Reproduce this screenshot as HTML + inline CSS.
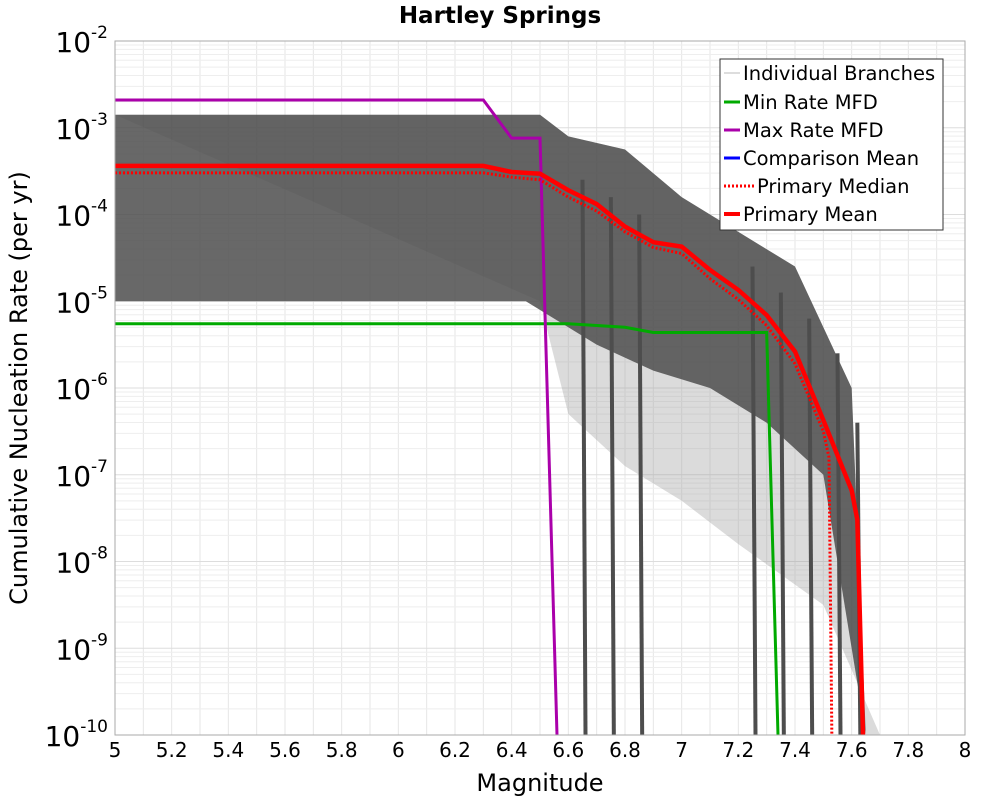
<!DOCTYPE html>
<html><head><meta charset="utf-8"><style>
body{margin:0;background:#fff;font-family:"Liberation Sans","DejaVu Sans",sans-serif}
svg text{font-family:"DejaVu Sans","Liberation Sans",sans-serif}
</style></head><body>
<svg id="chart" width="1000" height="800" viewBox="0 0 1000 800" xmlns="http://www.w3.org/2000/svg">
<text x="500" y="23" text-anchor="middle" font-size="23" font-weight="bold">Hartley Springs</text>
<g id="grid"></g>
<g id="branches"></g>
<g id="series"></g>
<rect x="115" y="41" width="850" height="694" fill="none" stroke="#aaa"/>
<g id="ticks"></g>
<text x="540" y="791" text-anchor="middle" font-size="24">Magnitude</text>
<text transform="translate(27,388) rotate(-90)" text-anchor="middle" font-size="24">Cumulative Nucleation Rate (per yr)</text>
<g>
<rect x="720" y="59" width="223" height="171" fill="#fff" stroke="#333"/>
<line x1="724" y1="73" x2="740" y2="73" stroke="#bbb" stroke-width="1"/>
<text x="743" y="80" font-size="19.5">Individual Branches</text>
<line x1="724" y1="102" x2="740" y2="102" stroke="#00aa00" stroke-width="3"/>
<text x="743" y="109" font-size="19.5">Min Rate MFD</text>
<line x1="724" y1="130" x2="740" y2="130" stroke="#aa00aa" stroke-width="3"/>
<text x="743" y="137" font-size="19.5">Max Rate MFD</text>
<line x1="724" y1="158" x2="740" y2="158" stroke="#0000ff" stroke-width="3"/>
<text x="743" y="165" font-size="19.5">Comparison Mean</text>
<line x1="724" y1="186" x2="754" y2="186" stroke="#f00" stroke-width="3" stroke-dasharray="2,2"/>
<text x="757" y="193" font-size="19.5">Primary Median</text>
<line x1="724" y1="214" x2="740" y2="214" stroke="#f00" stroke-width="4"/>
<text x="743" y="221" font-size="19.5">Primary Mean</text>
</g>
</svg>
<script>
// data (log10 rate)
const meanM=[5,6.3,6.4,6.5,6.6,6.7,6.8,6.9,7.0,7.1,7.2,7.3,7.4,7.5,7.6,7.62,7.64];
const meanV=[-3.44,-3.44,-3.51,-3.53,-3.72,-3.88,-4.14,-4.32,-4.37,-4.64,-4.87,-5.16,-5.58,-6.37,-7.18,-7.52,-10];
const medM=[5,6.3,6.4,6.5,6.6,6.7,6.8,6.9,7.0,7.1,7.2,7.3,7.4,7.5,7.52,7.53];
const medV=[-3.52,-3.52,-3.57,-3.6,-3.8,-3.96,-4.2,-4.38,-4.45,-4.74,-4.98,-5.28,-5.72,-6.5,-6.8,-10];
const maxM=[5,6.3,6.4,6.5,6.56];
const maxV=[-2.68,-2.68,-3.12,-3.12,-10];
const minM=[5,6.6,6.8,6.9,7.3,7.34];
const minV=[-5.26,-5.26,-5.3,-5.36,-5.36,-10];
const bandUpM=[5,6.5,6.6,6.8,7.0,7.2,7.4,7.5,7.6,7.65];
const bandUpV=[-2.85,-2.85,-3.1,-3.25,-3.8,-4.2,-4.6,-5.3,-6.0,-10];
const bandLoM=[7.65,7.5,7.3,7.1,6.9,6.7,6.55,6.45,5];
const bandLoV=[-10,-7.0,-6.4,-6.0,-5.8,-5.5,-5.2,-5.0,-5.0];
const lightLoM=[7.7,7.5,7.2,7.0,6.8,6.6,6.5];
const lightLoV=[-10,-8.5,-7.8,-7.3,-6.9,-6.3,-5.0];
const dropM=[6.65,6.75,6.85,7.25,7.35,7.45,7.55,7.62];
const dropTop=[-3.6,-3.8,-4.0,-4.6,-4.9,-5.2,-5.6,-6.4];
const xTicks=[5,5.2,5.4,5.6,5.8,6,6.2,6.4,6.6,6.8,7,7.2,7.4,7.6,7.8,8];
const yTicks=[-2,-3,-4,-5,-6,-7,-8,-9,-10];
const NS="http://www.w3.org/2000/svg";
const X=m=>115+(m-5)*850/3, Y=l=>41+(-2-l)*694/8;
function mk(t,p,a){const e=document.createElementNS(NS,t);for(const k in a)e.setAttribute(k,a[k]);p.appendChild(e);return e;}
const grid=document.getElementById('grid');
for(let m=5;m<=8.001;m+=0.1){const g=mk('line',grid,{x1:X(m),x2:X(m),y1:41,y2:735,stroke:'#e6e6e6'});

}
for(let d=-10;d<-2;d++)for(let k=1;k<10;k++){const l=d+Math.log10(k);const g=mk('line',grid,{x1:115,x2:965,y1:Y(l),y2:Y(l),stroke:k==1?'#ddd':'#eee'});

}
const br=document.getElementById('branches');
const pts=(M,V)=>M.map((m,i)=>X(m)+','+Y(Math.max(V[i],-10.1))).join(' ');
const light=mk('polygon',br,{points:pts(bandUpM.concat(lightLoM),bandUpV.concat(lightLoV)),fill:'#999','fill-opacity':0.35});


const band=mk('polygon',br,{points:pts(bandUpM.concat(bandLoM),bandUpV.concat(bandLoV)),fill:'#4d4d4d','fill-opacity':0.85});


dropM.forEach((m,i)=>{const l=mk('line',br,{x1:X(m),x2:X(m)+3,y1:Y(dropTop[i]),y2:735,stroke:'#4d4d4d','stroke-width':4});

});
const ser=document.getElementById('series');
function line(M,V,c,w,dash,name){const p=mk('polyline',ser,{points:pts(M,V),fill:'none',stroke:c,'stroke-width':w});if(dash)p.setAttribute('stroke-dasharray',dash);

}
line(minM,minV,'#00aa00',3,null,'min-rate-line');
line(maxM,maxV,'#aa00aa',3,null,'max-rate-line');
line(medM,medV,'#ff0000',3,'2,2','primary-median-line');
line(meanM,meanV,'#ff0000',4.5,null,'primary-mean-line');
const tk=document.getElementById('ticks');
xTicks.forEach(m=>{const t=mk('text',tk,{x:X(m),y:757,'text-anchor':'middle','font-size':20});t.textContent=String(m);

});
yTicks.forEach(l=>{const t=mk('text',tk,{x:108,y:Y(l)+11,'text-anchor':'end','font-size':28});t.textContent='10';


const s=mk('tspan',t,{dy:-14,'font-size':17});s.textContent=String(l);});
</script>
</body></html>
